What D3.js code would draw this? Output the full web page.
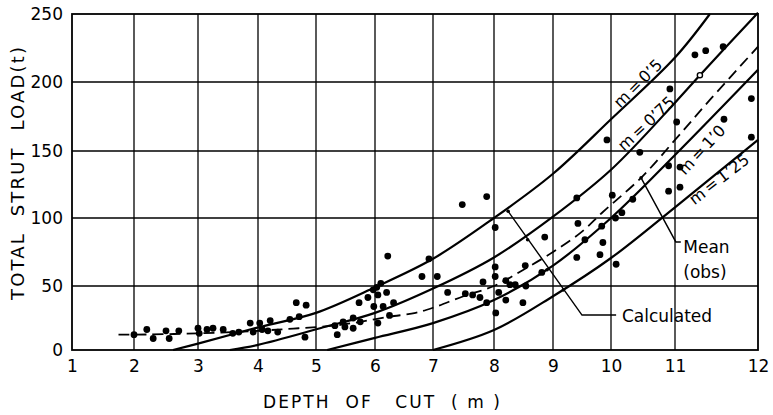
<!DOCTYPE html>
<html>
<head>
<meta charset="utf-8">
<script src="https://cdn.jsdelivr.net/npm/d3@7"></script>
<style>
  html, body { margin: 0; padding: 0; background: #fff; }
  svg { display: block; }
  text { font-family: "DejaVu Sans", sans-serif; fill: #000; }
</style>
</head>
<body>
<svg id="chart" width="773" height="415"></svg>
<script>
// ---- data ----
const depthTicks = [1, 2, 3, 4, 5, 6, 7, 8, 9, 10, 11, 12];
const loadTicks = [0, 50, 100, 150, 200, 250];

// observed strut loads: [depth of cut (m), total strut load (t)]
const observed = [
  [2.0, 12], [2.2, 16], [2.3, 9], [2.5, 15], [2.55, 9], [2.7, 15],
  [3.0, 17], [3.02, 13], [3.15, 16], [3.25, 17], [3.42, 16], [3.58, 13], [3.68, 14],
  [3.87, 21], [3.92, 14], [4.03, 21], [4.07, 16], [4.21, 23], [4.17, 15], [4.34, 14],
  [4.55, 24], [4.66, 37], [4.83, 35], [4.71, 26], [4.81, 10],
  [5.32, 19], [5.36, 12], [5.46, 22], [5.49, 18], [5.63, 25], [5.63, 17], [5.75, 22],
  [5.73, 37], [5.88, 41], [5.97, 47], [6.03, 49], [6.1, 52], [6.05, 43], [6.2, 45],
  [5.98, 34], [6.14, 34], [6.32, 37], [6.25, 27], [6.05, 21], [6.22, 72],
  [6.81, 57], [6.93, 70], [7.07, 57], [7.24, 45], [7.48, 110],
  [7.53, 44], [7.65, 43], [7.77, 41], [7.82, 53], [7.88, 116], [8.02, 93],
  [8.02, 64], [8.02, 57], [7.88, 37], [8.03, 29], [8.08, 45], [8.2, 54], [8.2, 39],
  [8.27, 51], [8.36, 51], [8.49, 37], [8.53, 65], [8.54, 50], [8.81, 60], [8.86, 86],
  [9.41, 115], [9.43, 96], [9.55, 84], [9.84, 94], [9.86, 82], [9.41, 71], [9.81, 73],
  [10.02, 117], [10.07, 100], [10.17, 104], [10.34, 114], [10.08, 66],
  [9.93, 158], [10.45, 149], [10.9, 139], [11.06, 138], [10.9, 120], [11.06, 123],
  [10.92, 195], [11.02, 171], [11.24, 220], [11.37, 223], [11.58, 226],
  [11.59, 173], [11.92, 188], [11.92, 160]
];
// open circle lying on the m = 0.75 curve
const openPoints = [[11.3, 205]];

// calculated loads for several values of m
const calcM050 = [[2.61, 0], [3, 5], [4.03, 18], [5, 29], [6, 49], [7, 70], [8, 100], [9, 133], [10, 173], [11, 218], [11.42, 250]];
const calcM075 = [[3.53, 0], [4, 4], [5.07, 17], [6, 29], [7, 48], [8, 71], [9, 101], [10, 136], [11, 185], [11.3, 205], [12, 251]];
const calcM100 = [[5.19, 0], [6, 9.5], [7, 21], [8, 39], [9, 65], [10, 100], [11, 147], [12, 209]];
const calcM125 = [[7.0, 0], [8, 15.6], [9, 42], [10, 70.6], [11, 108], [12, 158]];
// mean of observations
const meanObs = [[1.75, 12], [2, 12], [3, 13], [4, 15], [4.7, 17], [5.3, 19], [5.75, 22], [6.25, 26], [6.7, 29], [7, 33], [7.5, 42], [8, 50], [8.5, 62], [9, 75], [9.5, 90], [9.86, 104.5], [10.47, 130], [11, 158], [11.42, 187], [12, 226]];

const curveLabels = [
  { text: "m\u2009=\u20090’5", x: 10.42, y: 199, angle: -45 },
  { text: "m\u2009=\u20090’75", x: 10.55, y: 170, angle: -43 },
  { text: "m\u2009=\u20091’0", x: 11.32, y: 151, angle: -47 },
  { text: "m\u2009=\u20091’25", x: 11.53, y: 129, angle: -38 }
];
const calcLeader = [[8.24, 105], [9.5, 27.3], [10.08, 27.3]];
const calcMarks = [[8.24, 105], [8.57, 84], [8.9, 62], [9.18, 47]];
const meanLeader = [[10.47, 130], [11.01, 82.4], [11.07, 82.4]];

// ---- layout ----
const svg = d3.select("#chart");
const x = d3.scaleLinear().domain(depthTicks)
  .range([72, 134, 198, 258, 316, 375, 433, 494, 553, 611, 675, 758]);
const y = d3.scaleLinear().domain(loadTicks)
  .range([350, 286, 218, 151, 82, 14]);

const line = d3.line().x(d => x(d[0])).y(d => y(d[1])).curve(d3.curveCatmullRom.alpha(0.5));
const straight = d3.line().x(d => x(d[0])).y(d => y(d[1]));

// grid
const grid = svg.append("g").attr("stroke", "#000").attr("stroke-width", 1.3);
grid.selectAll("line.v").data(depthTicks.slice(1, -1)).join("line")
  .attr("x1", d => x(d)).attr("x2", d => x(d))
  .attr("y1", y(0)).attr("y2", y(250));
grid.selectAll("line.h").data(loadTicks.slice(1, -1)).join("line")
  .attr("x1", x(1)).attr("x2", x(12))
  .attr("y1", d => y(d)).attr("y2", d => y(d));

// frame
svg.append("rect")
  .attr("x", x(1)).attr("y", y(250))
  .attr("width", x(12) - x(1)).attr("height", y(0) - y(250))
  .attr("fill", "none").attr("stroke", "#000").attr("stroke-width", 1.8);

// axes (labels only; the frame and grid carry the lines)
const xAxis = d3.axisBottom(x).tickValues(depthTicks).tickSize(0).tickPadding(10).tickFormat(d3.format("d"));
svg.append("g").attr("transform", `translate(0,${y(0)})`).call(xAxis)
  .call(g => g.select(".domain").remove())
  .selectAll("text").attr("font-size", 17).attr("font-family", "DejaVu Sans");
const yAxis = d3.axisLeft(y).tickValues(loadTicks).tickSize(0).tickPadding(9).tickFormat(d3.format("d"));
svg.append("g").attr("transform", `translate(${x(1)},0)`).call(yAxis)
  .call(g => g.select(".domain").remove())
  .selectAll("text").attr("font-size", 17).attr("font-family", "DejaVu Sans");

// axis titles
svg.append("text")
  .attr("x", 263).attr("y", 408)
  .attr("font-size", 17)
  .attr("textLength", 237).attr("lengthAdjust", "spacing")
  .style("white-space", "pre")
  .text("DEPTH  OF   CUT  ( m )");
svg.append("text")
  .attr("transform", "translate(24,300) rotate(-90)")
  .attr("font-size", 18)
  .attr("textLength", 253).attr("lengthAdjust", "spacing")
  .style("white-space", "pre")
  .text("TOTAL  STRUT  LOAD(t)");

// calculated curves
const curves = svg.append("g").attr("fill", "none").attr("stroke", "#000").attr("stroke-width", 2.2);
[calcM050, calcM075, calcM100, calcM125].forEach(c => {
  curves.append("path").attr("d", line(c));
});
// mean of observations
svg.append("path").attr("d", line(meanObs))
  .attr("fill", "none").attr("stroke", "#000").attr("stroke-width", 1.8)
  .attr("stroke-dasharray", "11,6");

// observed points
svg.append("g").selectAll("circle").data(observed).join("circle")
  .attr("cx", d => x(d[0])).attr("cy", d => y(d[1])).attr("r", 3.4).attr("fill", "#000");
svg.append("g").selectAll("circle").data(openPoints).join("circle")
  .attr("cx", d => x(d[0])).attr("cy", d => y(d[1])).attr("r", 2.6)
  .attr("fill", "#fff").attr("stroke", "#000").attr("stroke-width", 1.4);

// curve labels
svg.append("g").selectAll("text").data(curveLabels).join("text")
  .attr("transform", d => `translate(${x(d.x)},${y(d.y)}) rotate(${d.angle})`)
  .attr("text-anchor", "middle").attr("dy", "0.35em")
  .attr("font-size", 16)
  .text(d => d.text);

// leaders
const lead = svg.append("g").attr("fill", "none").attr("stroke", "#000").attr("stroke-width", 1.4);
lead.append("path").attr("d", straight(calcLeader));
lead.append("path").attr("d", straight(meanLeader));
svg.append("g").selectAll("circle").data(calcMarks.concat([meanLeader[0]])).join("circle")
  .attr("cx", d => x(d[0])).attr("cy", d => y(d[1])).attr("r", 1.8).attr("fill", "#000");

svg.append("text").attr("x", x(10.17)).attr("y", y(21.9)).attr("font-size", 17).text("Calculated");
svg.append("text").attr("x", x(11.1)).attr("y", y(74)).attr("font-size", 17).text("Mean");
svg.append("text").attr("x", x(11.1)).attr("y", y(56)).attr("font-size", 17).text("(obs)");
</script>
</body>
</html>
